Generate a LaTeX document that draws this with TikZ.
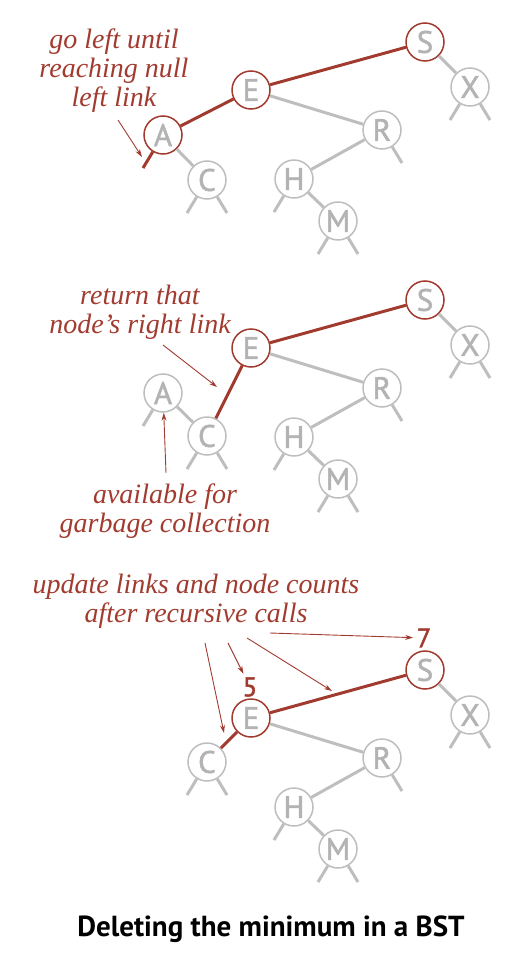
\documentclass[tikz,border=0pt]{standalone}
\usepackage{fontspec}
\setmainfont{Liberation Serif}
\setsansfont{PT Sans}
\newfontfamily\keyfont[FakeBold=1.5]{PT Sans}
\usepackage{tikz}
\usetikzlibrary{arrows.meta}

\definecolor{bstred}{HTML}{A23B2F}
\definecolor{bstgray}{HTML}{BEBEBE}
\definecolor{keygray}{HTML}{B3B3B3}

\tikzset{
  key/.style={circle, draw=bstgray, line width=1.5pt, fill=white,
    minimum size=38pt, inner sep=0pt, text=keygray,
    font=\keyfont\fontsize{31}{31}\selectfont},
  hot/.style={draw=bstred},
  link/.style={draw=bstgray, line width=3pt},
  redlink/.style={draw=bstred, line width=3pt},
  note/.style={text=bstred, align=center, anchor=base,
    font=\itshape\fontsize{28}{29}\selectfont},
  count/.style={text=bstred, font=\keyfont\fontsize{27}{27}\selectfont},
  pointer/.style={draw=bstred, line width=0.9pt, -{Stealth[length=8pt,width=5pt]}}
}

\begin{document}
\begin{tikzpicture}[x=1pt, y=-1pt]
\useasboundingbox (0,0) rectangle (510,960);

% first tree: search for the minimum
\node[key, hot] (S1) at (425,42) {S};
\node[key, hot] (E1) at (251,90) {E};
\node[key, hot] (A1) at (163,135) {A};
\node[key] (C1) at (207,180) {C};
\node[key] (R1) at (382,130) {R};
\node[key] (H1) at (294,179) {H};
\node[key] (M1) at (338,221) {M};
\node[key] (X1) at (470,87) {X};

\draw[redlink] (S1) -- (E1);
\draw[redlink] (E1) -- (A1);
\draw[redlink] (A1) -- ++(-20,33);
\draw[link] (A1) -- (C1);
\draw[link] (E1) -- (R1);
\draw[link] (R1) -- (H1);
\draw[link] (H1) -- (M1);
\draw[link] (S1) -- (X1);
\draw[link] (R1) -- ++(20,33);
\draw[link] (H1) -- ++(-20,33);
\foreach \n in {C1,M1,X1} {
  \draw[link] (\n) -- ++(-20,33);
  \draw[link] (\n) -- ++(20,33);
}

\node[note] (goleft) at (114,107) {go left until\\reaching null\\left link};
\coordinate (goleftA) at (118,120);
\coordinate (goleftB) at (142,157);
\draw[pointer] (goleftA) -- (goleftB);

% second tree: right link replaces the minimum
\node[key, hot] (S2) at (425,300) {S};
\node[key, hot] (E2) at (251,348) {E};
\node[key] (A2) at (163,393) {A};
\node[key] (C2) at (207,436) {C};
\node[key] (R2) at (382,388) {R};
\node[key] (H2) at (294,437) {H};
\node[key] (M2) at (338,479) {M};
\node[key] (X2) at (470,345) {X};

\draw[redlink] (S2) -- (E2);
\draw[redlink] (E2) -- (C2);
\draw[link] (A2) -- (C2);
\draw[link] (A2) -- ++(-20,33);
\draw[link] (E2) -- (R2);
\draw[link] (R2) -- (H2);
\draw[link] (H2) -- (M2);
\draw[link] (S2) -- (X2);
\draw[link] (R2) -- ++(20,33);
\draw[link] (H2) -- ++(-20,33);
\foreach \n in {C2,M2,X2} {
  \draw[link] (\n) -- ++(-20,33);
  \draw[link] (\n) -- ++(20,33);
}

\node[note] (retlink) at (140,333) {return that\\node’s right link};
\coordinate (retlinkA) at (163,345);
\coordinate (retlinkB) at (217,387);
\draw[pointer] (retlinkA) -- (retlinkB);

\node[note] (garbage) at (165,532) {available for\\garbage collection};
\coordinate (garbageA) at (166,473);
\draw[pointer] (garbageA) -- (A2);

% third tree: counts fixed on the way back up
\node[key, hot] (S3) at (425,670) {S};
\node[key, hot] (E3) at (251,718) {E};
\node[key] (C3) at (207,762) {C};
\node[key] (R3) at (382,758) {R};
\node[key] (H3) at (294,807) {H};
\node[key] (M3) at (338,849) {M};
\node[key] (X3) at (470,715) {X};

\draw[redlink] (S3) -- (E3);
\draw[redlink] (E3) -- (C3);
\draw[link] (E3) -- (R3);
\draw[link] (R3) -- (H3);
\draw[link] (H3) -- (M3);
\draw[link] (S3) -- (X3);
\draw[link] (R3) -- ++(20,33);
\draw[link] (H3) -- ++(-20,33);
\foreach \n in {C3,M3,X3} {
  \draw[link] (\n) -- ++(-20,33);
  \draw[link] (\n) -- ++(20,33);
}

\node[count] (cntS) at (424,638) {7};
\node[count] (cntE) at (250,687) {5};

\node[note] (update) at (196,622) {update links and node counts\\after recursive calls};
\coordinate (upA) at (270,633);
\coordinate (upB) at (247,638);
\coordinate (upC) at (228,643);
\coordinate (upD) at (205,643);
\coordinate (upSE) at (332,691);
\coordinate (upEC) at (224,733);
\draw[pointer] (upA) -- (cntS);
\draw[pointer] (upB) -- (upSE);
\draw[pointer] (upC) -- (cntE);
\draw[pointer] (upD) -- (upEC);

\node[font=\sffamily\bfseries\fontsize{29}{29}\selectfont] (title) at (271,936) [anchor=base] {Deleting the minimum in a BST};
\end{tikzpicture}
\end{document}
